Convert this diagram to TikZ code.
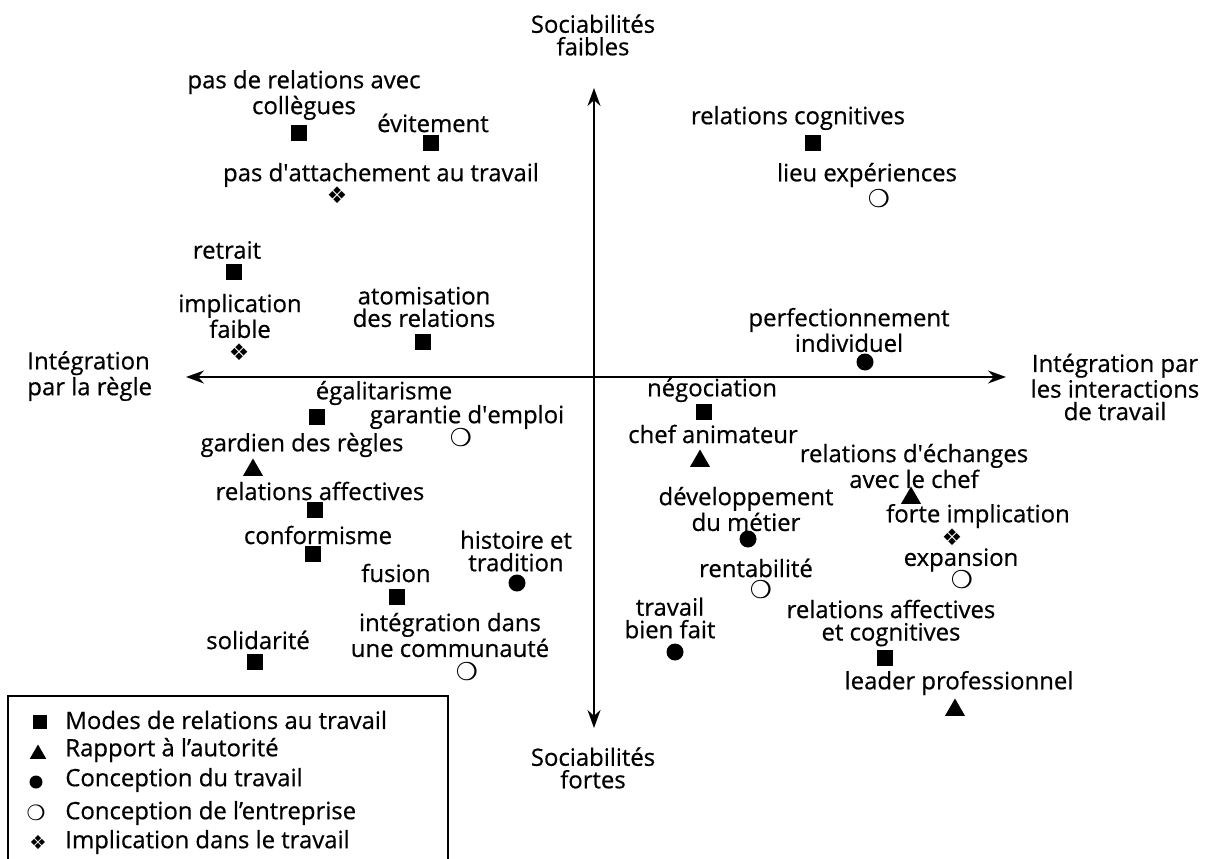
\documentclass[tikz,border=0pt]{standalone}
\usepackage{fontspec}
\setmainfont{Open Sans}[FakeBold=0.6]
\newfontfamily\symfnt{DejaVu Sans}
\usetikzlibrary{shapes.geometric,arrows.meta}

\tikzset{
  lbl/.style={align=center, font=\fontsize{13.6}{12.8}\selectfont},
  sq/.style={rectangle, fill=black, minimum size=0.33cm},
  tri/.style={regular polygon, regular polygon sides=3, fill=black, minimum size=0.46cm},
  dt/.style={circle, fill=black, minimum size=0.34cm},
  rg/.style={font=\symfnt\fontsize{14}{14}\selectfont},
  cl/.style={font=\symfnt\fontsize{13}{13}\selectfont},
  axe/.style={line width=1.1pt, {Stealth[length=0.36cm,width=0.26cm]}-{Stealth[length=0.36cm,width=0.26cm]}}
}

\begin{document}
\begin{tikzpicture}
          [x=0.02cm,y=-0.02cm,every node/.style={inner sep=0pt}]
        \useasboundingbox (0,0) rectangle (1221,859);

        % axes
        \coordinate (ytop) at (594,88);
        \coordinate (ybot) at (594,728);
        \coordinate (xl) at (186,377);
        \coordinate (xr) at (1006,377);
        \draw[axe] (ybot) -- (ytop);
        \draw[axe] (xl) -- (xr);

        \node[lbl] (faibles) at (593,35) {Sociabilités\\faibles};
        \node[lbl] (fortes) at (593,768) {Sociabilités\\fortes};
        \node[lbl, align=left, anchor=west] (regle) at (27,376) {Intégration\\par la règle};
        \node[lbl] (interact) at (1115,387) {Intégration par\\les interactions\\de travail};

        % markers
        \foreach \n/\x/\y in {sq1/299/133, sq2/431/143, sq3/813/143, sq4/234/272, sq5/423/342,
                              sq6/317/417, sq7/315/510, sq8/313/554, sq9/397/597, sq10/255/662,
                              sq11/704/412, sq12/885/658}
          \node[sq] (\n) at (\x,\y) {};
        \foreach \n/\x/\y in {tr1/253/470, tr2/700/461, tr3/911/498, tr4/955/710}
          \node[tri] (\n) at (\x,\y) {};
        \foreach \n/\x/\y in {dt1/865/362, dt2/517/583, dt3/748/539, dt4/675/652}
          \node[dt] (\n) at (\x,\y) {};
        \foreach \n/\x/\y in {rg1/879/199, rg2/461/438, rg3/761/590, rg4/962/580, rg5/467/672}
          \node[rg] (\n) at (\x,\y) {❍};
        \foreach \n/\x/\y in {cl1/337/195, cl2/239/352, cl3/952/537}
          \node[cl] (\n) at (\x,\y) {❖};

        % labels
        \node[lbl] (l-sq1) at (304,95) {pas de relations avec\\collègues};
        \node[lbl] (l-sq2) at (433,123) {évitement};
        \node[lbl] (l-sq3) at (798,118) {relations cognitives};
        \node[lbl] (l-sq4) at (227,250) {retrait};
        \node[lbl] (l-sq5) at (424,307) {atomisation\\des relations};
        \node[lbl] (l-sq6) at (384,393) {égalitarisme};
        \node[lbl] (l-sq7) at (320,491) {relations affectives};
        \node[lbl] (l-sq8) at (318,535) {conformisme};
        \node[lbl] (l-sq9) at (396,573) {fusion};
        \node[lbl] (l-sq10) at (258,640) {solidarité};
        \node[lbl] (l-sq11) at (712,390) {négociation};
        \node[lbl] (l-sq12) at (891,623) {relations affectives\\et cognitives};

        \node[lbl] (l-tr1) at (302,445) {gardien des règles};
        \node[lbl] (l-tr2) at (713,434) {chef animateur};
        \node[lbl] (l-tr3) at (914,466) {relations d\textquotesingle échanges\\avec le chef};
        \node[lbl] (l-tr4) at (959,683) {leader professionnel};

        \node[lbl] (l-dt1) at (849,330) {perfectionnement\\individuel};
        \node[lbl] (l-dt2) at (516,551) {histoire et\\tradition};
        \node[lbl] (l-dt3) at (746,509) {développement\\du métier};
        \node[lbl] (l-dt4) at (670,618) {travail\\bien fait};

        \node[lbl] (l-rg1) at (867,175) {lieu expériences};
        \node[lbl] (l-rg2) at (467,417) {garantie d\textquotesingle emploi};
        \node[lbl] (l-rg3) at (756,568) {rentabilité};
        \node[lbl] (l-rg4) at (961,560) {expansion};
        \node[lbl] (l-rg5) at (450,635) {intégration dans\\une communauté};

        \node[lbl] (l-cl1) at (381,175) {pas d\textquotesingle attachement au travail};
        \node[lbl] (l-cl2) at (240,316) {implication\\faible};
        \node[lbl] (l-cl3) at (978,516) {forte implication};

        % legend
        \draw[line width=0.8pt] (8,880) |- (448,696) -- (448,880);
        \node[sq, minimum size=0.27cm] (k-sq) at (40,722) {};
        \node[tri, minimum size=0.38cm] (k-tr) at (38,754) {};
        \node[dt, minimum size=0.26cm] (k-dt) at (36,782) {};
        \node[rg, font=\symfnt\fontsize{12}{12}\selectfont] (k-rg) at (36,813) {❍};
        \node[cl, font=\symfnt\fontsize{11}{11}\selectfont] (k-cl) at (38,842) {❖};
        \node[lbl, anchor=west] (k-sq-t) at (65,720) {Modes de relations au travail};
        \node[lbl, anchor=west] (k-tr-t) at (65,750) {Rapport à l'autorité};
        \node[lbl, anchor=west] (k-dt-t) at (65,780) {Conception du travail};
        \node[lbl, anchor=west] (k-rg-t) at (65,813) {Conception de l'entreprise};
        \node[lbl, anchor=west] (k-cl-t) at (65,842) {Implication dans le travail};
      \end{tikzpicture}
\end{document}
